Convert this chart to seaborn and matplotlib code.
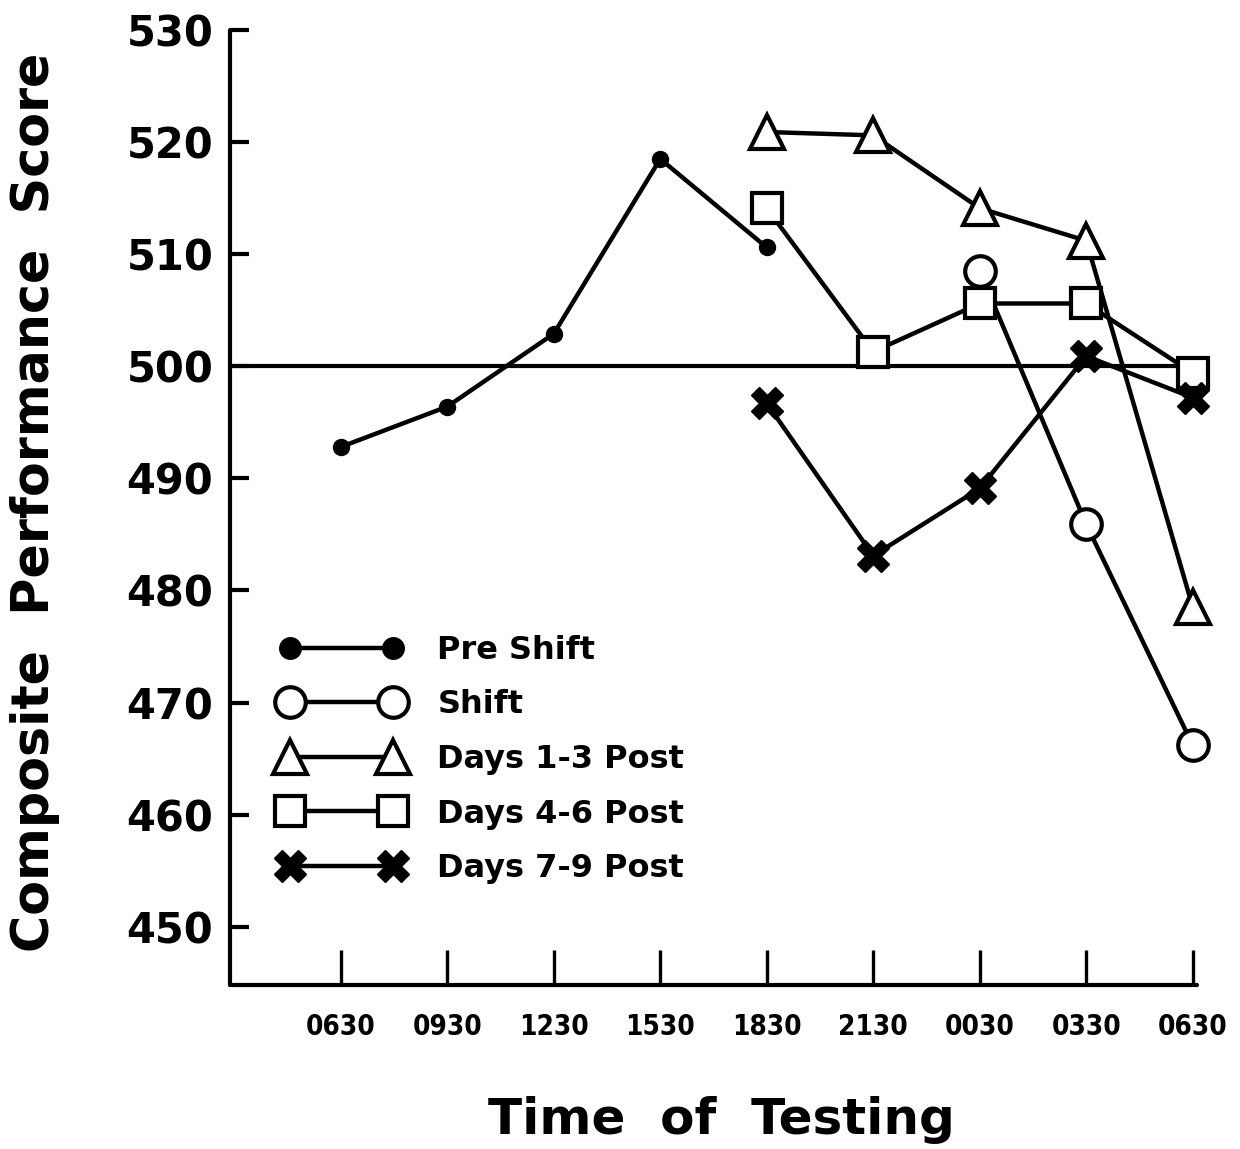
import numpy as np
import pandas as pd
import matplotlib
matplotlib.use("Agg")
import matplotlib.pyplot as plt
import seaborn as sns

# ---- data ----
time_labels = ["0630", "0930", "1230", "1530", "1830", "2130", "0030", "0330", "0630"]
slots = list(range(len(time_labels)))

pre_shift_slots = [0, 1, 2, 3, 4]
pre_shift = [492.8, 496.4, 502.9, 518.5, 510.6]

shift_slots = [6, 7, 8]
shift = [508.5, 485.9, 466.2]

days13_slots = [4, 5, 6, 7, 8]
days13 = [520.9, 520.6, 514.1, 511.2, 478.5]

days46_slots = [4, 5, 6, 7, 8]
days46 = [514.1, 501.3, 505.6, 505.6, 499.4]

days79_slots = [4, 5, 6, 7, 8]
days79 = [496.7, 483.1, 489.1, 500.9, 497.2]

y_ticks = [450, 460, 470, 480, 490, 500, 510, 520, 530]
reference_level = 500

series = [
    ("Pre Shift", pre_shift_slots, pre_shift, "o", 11, "black", 1.5),
    ("Shift", shift_slots, shift, "o", 22, "white", 3.0),
    ("Days 1-3 Post", days13_slots, days13, "^", 24, "white", 3.0),
    ("Days 4-6 Post", days46_slots, days46, "s", 22, "white", 3.0),
    ("Days 7-9 Post", days79_slots, days79, "X", 23, "black", 1.0),
]

# ---- figure ----
sns.set_theme(style="white")
plt.rcParams["font.family"] = ["DejaVu Sans"]
plt.rcParams["font.weight"] = "bold"
plt.rcParams["text.color"] = "black"
plt.rcParams["xtick.color"] = "black"
plt.rcParams["ytick.color"] = "black"
plt.rcParams["xtick.labelcolor"] = "black"
plt.rcParams["ytick.labelcolor"] = "black"

fig = plt.figure(figsize=(12.4, 11.49), dpi=100)
ax = fig.add_axes([230 / 1240, 1 - 985 / 1149, (1197 - 230) / 1240, (985 - 30) / 1149])

ax.axhline(reference_level, color="black", lw=3.0, zorder=1)

for name, xs, ys, mk, ms, fc, mew in series:
    df = pd.DataFrame({"slot": xs, "score": ys})
    sns.lineplot(data=df, x="slot", y="score", ax=ax, color="black",
                 marker=mk, markersize=ms, markerfacecolor=fc,
                 markeredgecolor="black", markeredgewidth=mew,
                 linewidth=3.2, label=name, legend=False, zorder=3,
                 clip_on=False)

ax.set_xlim(-1.04, 8.04)
ax.set_ylim(444.8, 530)
ax.set_xticks(slots)
ax.set_xticklabels(time_labels)
ax.set_yticks(y_ticks)
ax.set_yticklabels([str(v) for v in y_ticks])

for s in ["top", "right"]:
    ax.spines[s].set_visible(False)
for s in ["left", "bottom"]:
    ax.spines[s].set_color("black")
    ax.spines[s].set_linewidth(3.0)
    ax.spines[s].set_capstyle("round")

ax.tick_params(axis="x", which="major", bottom=True, direction="in", length=25,
               width=2.4, color="black", pad=20, labelsize=20, labelcolor="black")
ax.tick_params(axis="y", which="major", left=True, direction="in", length=14,
               width=3.0, color="black", pad=12, labelsize=30, labelcolor="black")
for lab in ax.get_xticklabels():
    lab.set_fontweight("bold")
    lab.set_fontstretch("condensed")
for lab in ax.get_yticklabels():
    lab.set_fontweight("bold")

ax.set_xlabel("")
ax.set_ylabel("")
fig.text(721 / 1240, 1 - 1120 / 1149, "Time  of  Testing", ha="center", va="center",
         fontsize=36, fontweight="bold", color="black")
fig.text(35 / 1240, 1 - 502 / 1149, "Composite  Performance  Score", ha="center",
         va="center", rotation=90, fontsize=36.5, fontweight="bold", color="black")

leg = ax.legend(loc="upper left", bbox_to_anchor=(252 / 1240, 1 - 606 / 1149),
                bbox_transform=fig.transFigure, frameon=False, numpoints=2,
                handlelength=3.8, handletextpad=1.1, labelspacing=0.74,
                borderpad=0.4, prop={"size": 23, "weight": "bold"})
for t in leg.get_texts():
    t.set_color("black")
leg.legend_handles[0].set_markersize(15)

fig.savefig("out.png", dpi=100, facecolor="white")
